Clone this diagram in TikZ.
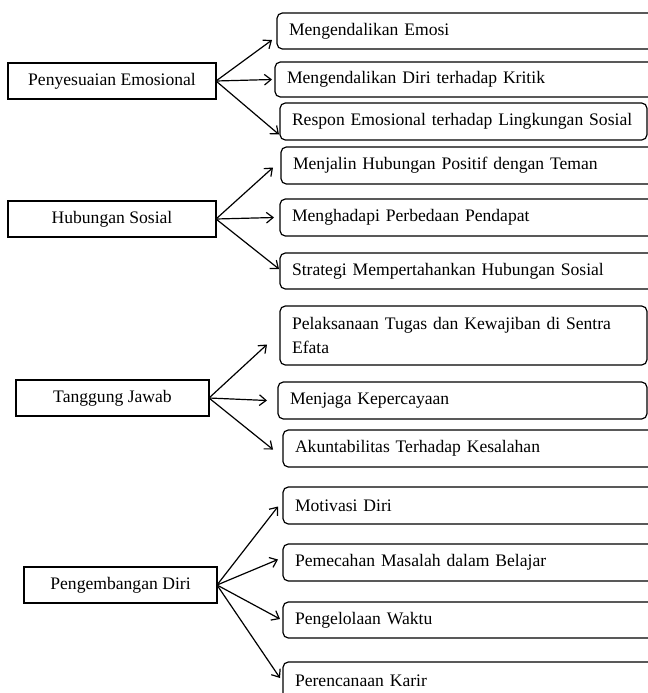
\documentclass[tikz,border=0pt]{standalone}
\usepackage{fontspec}
\setmainfont{Liberation Serif}
\usetikzlibrary{arrows.meta, positioning}
\tikzset{
  main/.style={draw, line width=0.9pt, inner sep=0pt, outer sep=0pt,
    font=\fontsize{13.2}{18.5}\selectfont},
  item/.style={draw, line width=0.9pt, rounded corners=4pt, inner xsep=9pt,
    inner ysep=0pt, outer sep=0pt, align=left,
    font=\fontsize{13.2}{18.5}\selectfont},
  arr/.style={line width=0.9pt, -{Straight Barb[length=5pt, width=8pt]}}
}
% name, left, top, bottom, right, text (pixel units, y down)
\newcommand{\itembox}[6]{%
  \pgfmathsetlengthmacro{\bw}{(#5-#2)*0.75pt-18pt}%
  \pgfmathsetlengthmacro{\bh}{(#4-#3)*0.75pt}%
  \node[item, anchor=north west, text width=\bw, minimum height=\bh] (#1) at (#2,#3) {#6};}

\begin{document}
\begin{tikzpicture}[x=0.75pt, y=-0.75pt]
\useasboundingbox (0,0) rectangle (648,693);
% Penyesuaian Emosional
\node[main, minimum width=156pt, minimum height=27pt] (pe) at (112,81) {Penyesuaian Emosional};
\itembox{pe1}{277}{13}{49}{655}{Mengendalikan Emosi}
\itembox{pe2}{275}{62}{97}{655}{Mengendalikan Diri terhadap Kritik}
\itembox{pe3}{280}{103}{140}{647}{Respon Emosional terhadap Lingkungan Sosial}
\draw[arr] (pe.east) -- ([shift={(-5,9)}]pe1.west);
\draw[arr] (pe.east) -- ([shift={(-3,0)}]pe2.west);
\draw[arr] (pe.east) -- ([shift={(-1,13)}]pe3.west);
% Hubungan Sosial
\node[main, minimum width=156pt, minimum height=27pt] (hs) at (112,219) {Hubungan Sosial};
\itembox{hs1}{281}{147}{184}{655}{Menjalin Hubungan Positif dengan Teman}
\itembox{hs2}{280}{199}{236}{655}{Menghadapi Perbedaan Pendapat}
\itembox{hs3}{280}{253}{289}{655}{Strategi Mempertahankan Hubungan Sosial}
\draw[arr] (hs.east) -- ([shift={(-8,2)}]hs1.west);
\draw[arr] (hs.east) -- ([shift={(-6,0)}]hs2.west);
\draw[arr] (hs.east) -- ([shift={(-1,-2)}]hs3.west);
% Tanggung Jawab
\node[main, minimum width=144.75pt, minimum height=27pt] (tj) at (112.5,398) {Tanggung Jawab};
\itembox{tj1}{280}{306}{365}{647}{Pelaksanaan Tugas dan Kewajiban di Sentra\\Efata}
\itembox{tj2}{278}{382}{419}{647}{Menjaga Kepercayaan}
\itembox{tj3}{283}{430}{467}{655}{Akuntabilitas Terhadap Kesalahan}
\draw[arr] (tj.east) -- ([shift={(-13,9)}]tj1.west);
\draw[arr] (tj.east) -- ([shift={(-11,0)}]tj2.west);
\draw[arr] (tj.east) -- ([shift={(-10,1)}]tj3.west);
% Pengembangan Diri
\node[main, minimum width=144.75pt, minimum height=27pt] (pd) at (120.5,585) {Pengembangan Diri};
\itembox{pd1}{283}{487}{524}{655}{Motivasi Diri}
\itembox{pd2}{283}{544}{581}{655}{Pemecahan Masalah dalam Belajar}
\itembox{pd3}{283}{602}{638}{655}{Pengelolaan Waktu}
\itembox{pd4}{283}{662}{700}{655}{Perencanaan Karir}
\draw[arr] (pd.east) -- ([shift={(-5,1)}]pd1.west);
\draw[arr] (pd.east) -- ([shift={(-5,-3)}]pd2.west);
\draw[arr] (pd.east) -- ([shift={(-3,-1)}]pd3.west);
\draw[arr] (pd.east) -- ([shift={(-3,-3)}]pd4.west);
\end{tikzpicture}
\end{document}
